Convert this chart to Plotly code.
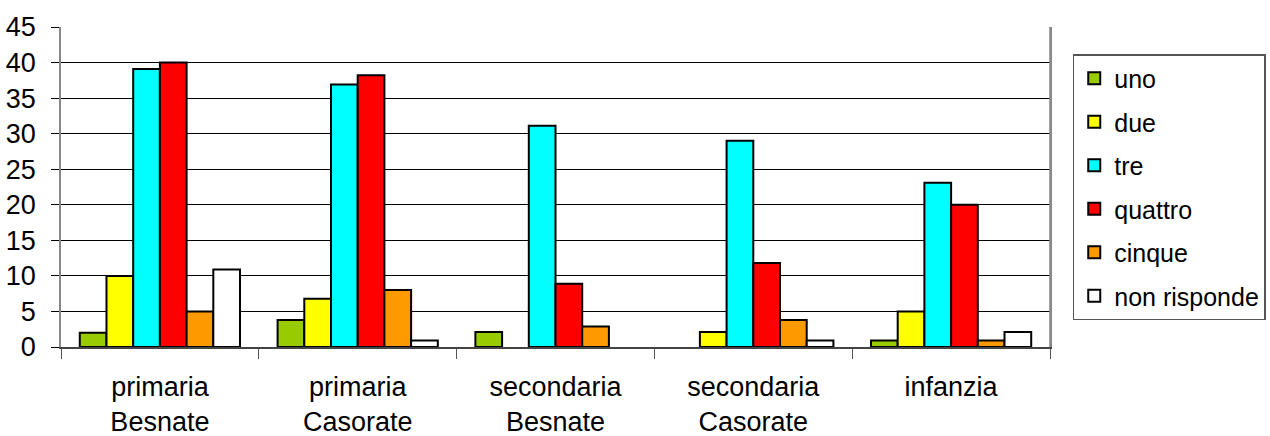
import plotly.graph_objects as go

categories = ["primaria<br>Besnate", "primaria<br>Casorate", "secondaria<br>Besnate",
              "secondaria<br>Casorate", "infanzia"]
series_names = ["uno", "due", "tre", "quattro", "cinque", "non risponde"]
uno = [2, 3.8, 2.1, 0, 0.9]
due = [10, 6.8, 0, 2.1, 5]
tre = [39.1, 36.9, 31.1, 29, 23.1]
quattro = [40, 38.2, 8.9, 11.8, 20]
cinque = [5, 8, 2.9, 3.8, 0.9]
non_risponde = [10.9, 0.9, 0, 0.9, 2.1]
values = [uno, due, tre, quattro, cinque, non_risponde]
colors = ["#99CC00", "#FFFF00", "#00FFFF", "#FF0000", "#FF9900", "#FFFFFF"]
y_ticks = [0, 5, 10, 15, 20, 25, 30, 35, 40, 45]

FAM = "Liberation Sans, Arial, sans-serif"
font = dict(family=FAM, size=27, color="black")

fig = go.Figure()
for name, vals, col in zip(series_names, values, colors):
    fig.add_trace(go.Bar(
        x=categories, y=vals, name=name, legendgroup=name,
        marker=dict(color=col,
                    line=dict(color="black", width=[0 if v == 0 else 2 for v in vals])),
    ))

fig.update_layout(
    width=1270, height=436,
    margin=dict(l=61, r=220, t=27, b=89, autoexpand=False),
    paper_bgcolor="white", plot_bgcolor="white",
    barmode="group", bargap=0.19, bargroupgap=0,
    font=font,
    showlegend=True,
    legend=dict(
        x=1.023, xanchor="left", y=0.5, yanchor="middle",
        bordercolor="#555555", borderwidth=1.5,
        font=dict(family=FAM, size=25, color="black"),
        tracegroupgap=8, itemwidth=30,
    ),
    xaxis=dict(
        tickson="boundaries", ticks="outside", ticklen=10, tickcolor="#555555",
        showline=True, linecolor="#444444", linewidth=1.5,
        showgrid=False, mirror=False, automargin=False,
        tickfont=font, ticklabelstandoff=15,
    ),
    yaxis=dict(
        range=[0, 45], tickvals=y_ticks, ticks="outside", ticklen=8, tickcolor="black",
        showgrid=True, gridcolor="black", gridwidth=1,
        showline=True, linecolor="#888888", linewidth=1.5, mirror=True,
        tickfont=font, zeroline=False, automargin=False, ticklabelstandoff=10,
    ),
)
fig.add_shape(type="line", xref="paper", yref="paper", x0=1, x1=1, y0=0, y1=1,
              line=dict(color="#888888", width=1.5))
fig.write_html("out.html", config={"displayModeBar": False},
               post_script="document.body.style.margin='0';document.body.style.overflow='hidden';")
